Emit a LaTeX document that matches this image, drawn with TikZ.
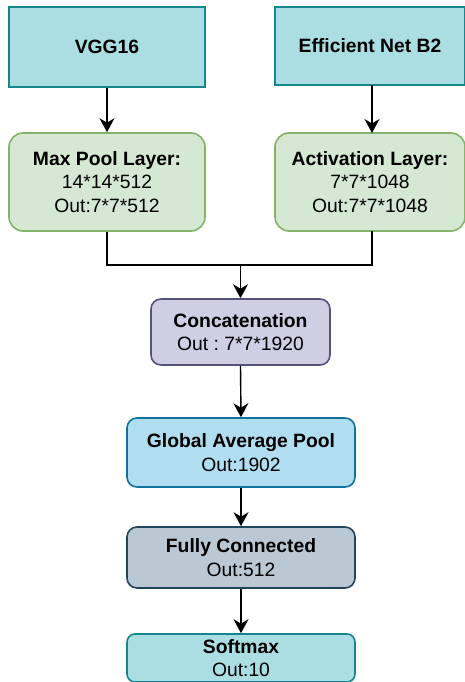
\documentclass[tikz,border=0pt]{standalone}
\usepackage{fontspec}
\setmainfont{Liberation Sans}
\usetikzlibrary{arrows.meta}
\frenchspacing
\definecolor{tealfill}{HTML}{AADEE2}
\definecolor{tealline}{HTML}{15878C}
\definecolor{greenfill}{HTML}{D5E8D4}
\definecolor{greenline}{HTML}{82B366}
\definecolor{purplefill}{HTML}{D0CEE2}
\definecolor{purpleline}{HTML}{56517E}
\definecolor{bluefill}{HTML}{B1DDF0}
\definecolor{blueline}{HTML}{10739E}
\definecolor{grayfill}{HTML}{BAC8D3}
\definecolor{grayline}{HTML}{23445D}
\tikzset{
  box/.style={draw, line width=1.6pt, inner sep=0pt, align=center, font=\fontsize{19.3}{23.5}\selectfont},
  netbox/.style={box, fill=tealfill, draw=tealline},
  greenbox/.style={box, fill=greenfill, draw=greenline, rounded corners=14pt},
  catbox/.style={box, fill=purplefill, draw=purpleline, rounded corners=10pt},
  gapbox/.style={box, fill=bluefill, draw=blueline, rounded corners=10pt},
  fcbox/.style={box, fill=grayfill, draw=grayline, rounded corners=10pt},
  smbox/.style={box, fill=tealfill, draw=tealline, rounded corners=8pt},
  conn/.style={line width=1.4pt, -{Stealth[length=14pt,width=15pt,inset=4.5pt]}},
  plain/.style={line width=1.4pt}
}
\begin{document}
\begin{tikzpicture}[x=1pt,y=-1pt]
\useasboundingbox (0,0) rectangle (464,682);
\node[netbox, minimum width=196pt, minimum height=80pt] (vgg) at (107,47) {\textbf{VGG16}};
\node[netbox, minimum width=190pt, minimum height=78pt] (eff) at (370,46) {\textbf{Efficient Net B2}};
\node[greenbox, minimum width=196pt, minimum height=98pt] (mp) at (107,182) {\textbf{Max Pool Layer:}\\14*14*512\\Out:7*7*512};
\node[greenbox, minimum width=190pt, minimum height=98pt] (act) at (370,182) {\textbf{Activation Layer:}\\7*7*1048\\Out:7*7*1048};
\node[catbox, minimum width=179pt, minimum height=66pt] (cat) at (240.5,332) {\textbf{Concatenation}\\Out : 7*7*1920};
\node[gapbox, minimum width=228pt, minimum height=69pt] (gap) at (241,452.5) {\textbf{Global Average Pool}\\Out:1902};
\node[fcbox, minimum width=228pt, minimum height=61pt] (fc) at (241,557.5) {\textbf{Fully Connected}\\Out:512};
\node[smbox, minimum width=228pt, minimum height=48pt, text depth=0pt] (sm) at (241,658) {\textbf{Softmax}\\Out:10};
\coordinate (j) at (240.5,265);
\coordinate (effout) at (372,85);
\coordinate (actin) at (372,133);
\coordinate (actout) at (372,231);
\draw[conn] (vgg.south) -- (mp.north);
\draw[conn] (effout) -- (actin);
\draw[plain] (mp.south) |- (j);
\draw[plain] (actout) |- (j);
\draw[conn] (j) -- (cat.north);
\draw[conn] (cat.south) -- (gap.north);
\draw[conn] (gap.south) -- (fc.north);
\draw[conn] (fc.south) -- (sm.north);
\end{tikzpicture}
\end{document}
